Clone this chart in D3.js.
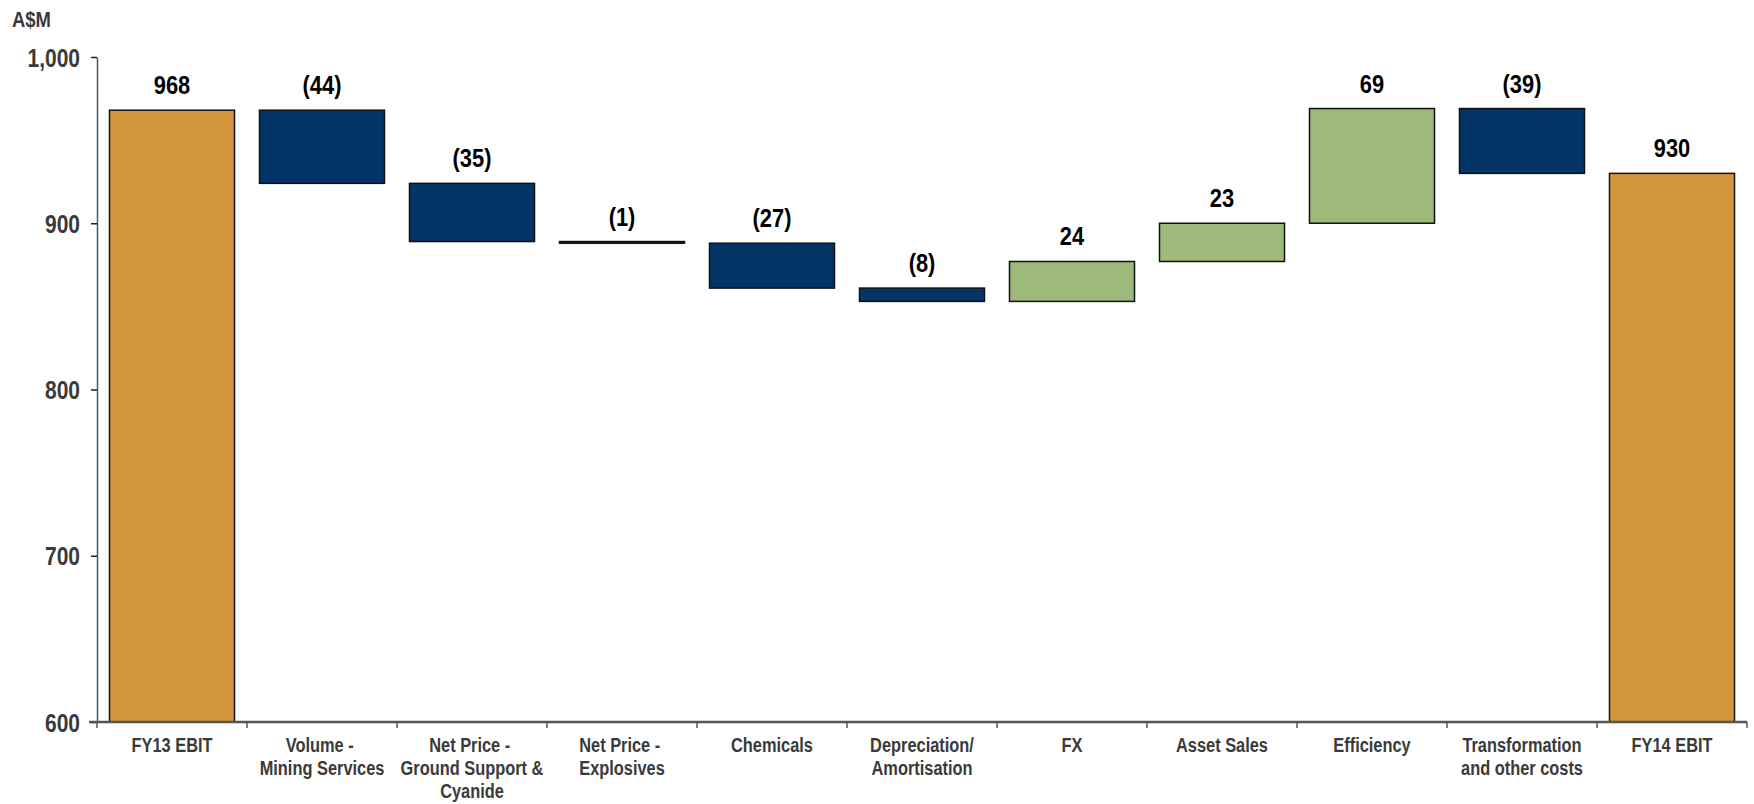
<!DOCTYPE html>
<html>
<head>
<meta charset="utf-8">
<script src="https://cdn.jsdelivr.net/npm/d3@7"></script>
<style>
  body { margin: 0; background: #fff; }
  text { font-family: "Liberation Sans Narrow", "Arial Narrow", "Liberation Sans", Arial, sans-serif; font-weight: bold; }
</style>
</head>
<body>
<div class="waterfall-chart"></div>
<script>
var width = 1754,
    height = 804,
    margin = { top: 57, right: 7, bottom: 82, left: 97 },
    goldColor = '#d3963b',
    navyColor = '#023466',
    greenColor = '#9dba7a',
    axisColor = '#555555',
    labelColor = '#3a3a3a',
    narrow = 0.84;

// data
var categories = ['FY13 EBIT', 'Volume - |Mining Services', 'Net Price - |Ground Support &|Cyanide',
                  'Net Price - |Explosives', 'Chemicals', 'Depreciation/|Amortisation', 'FX',
                  'Asset Sales', 'Efficiency', 'Transformation|and other costs', 'FY14 EBIT'];
var values = [968, -44, -35, -1, -27, -8, 24, 23, 69, -39, 930];
var kinds = ['total', 'step', 'step', 'step', 'step', 'step', 'step', 'step', 'step', 'step', 'total'];
var yTicks = [600, 700, 800, 900, 1000];

// running totals -> bar start/end
var bars = [], running = 0;
values.forEach(function (v, i) {
    var b = { cat: categories[i], value: v, kind: kinds[i] };
    if (kinds[i] === 'total') {
        b.start = 600; b.end = v; running = v;
    } else {
        b.start = running; b.end = running + v; running = b.end;
    }
    bars.push(b);
});

// squeeze text horizontally to mimic a narrow face
function condense(sel) {
    sel.each(function () {
        var len = this.getComputedTextLength();
        d3.select(this).attr('textLength', len * narrow).attr('lengthAdjust', 'spacingAndGlyphs');
    });
}

var svg = d3.select('.waterfall-chart').append('svg')
    .attr('width', width)
    .attr('height', height);

var x = d3.scaleBand()
    .domain(categories)
    .range([margin.left, width - margin.right])
    .padding(0);

var barPad = 0.0833;

var y = d3.scaleLinear()
    .domain([600, 1000])
    .range([height - margin.bottom, margin.top]);

function fillFor(d) {
    if (d.kind === 'total') return goldColor;
    return d.value < 0 ? navyColor : greenColor;
}

// bars
svg.append('g').attr('class', 'bars')
    .selectAll('rect')
    .data(bars)
    .enter().append('rect')
    .attr('x', function (d) { return x(d.cat) + x.bandwidth() * barPad; })
    .attr('width', x.bandwidth() * (1 - 2 * barPad))
    .attr('y', function (d) { return y(Math.max(d.start, d.end)); })
    .attr('height', function (d) { return Math.abs(y(d.start) - y(d.end)); })
    .attr('fill', fillFor)
    .attr('stroke', '#111')
    .attr('stroke-width', 1.5);

// value labels
svg.append('g').attr('class', 'values')
    .selectAll('text')
    .data(bars)
    .enter().append('text')
    .attr('x', function (d) { return x(d.cat) + x.bandwidth() / 2; })
    .attr('y', function (d) { return y(Math.max(d.start, d.end)) - 16; })
    .attr('text-anchor', 'middle')
    .attr('font-size', 26)
    .attr('fill', '#000')
    .text(function (d) { return d.value < 0 ? '(' + Math.abs(d.value) + ')' : d.value; })
    .call(condense);

// y axis
var yAxis = svg.append('g')
    .attr('transform', 'translate(' + margin.left + ',0)')
    .call(d3.axisLeft(y).tickValues(yTicks).tickFormat(d3.format(',')).tickSize(6).tickSizeOuter(0).tickPadding(11));
yAxis.select('.domain').attr('stroke', axisColor).attr('stroke-width', 1.5);
yAxis.selectAll('.tick line').attr('stroke', '#222').attr('stroke-width', 1.5);
yAxis.selectAll('.tick text')
    .attr('font-size', 25)
    .attr('fill', labelColor)
    .attr('dy', '0.36em')
    .style('font-family', '"Liberation Sans Narrow", "Arial Narrow", "Liberation Sans", Arial, sans-serif')
    .call(condense);

// x axis baseline and separators
var xAxis = svg.append('g').attr('class', 'x-axis');
xAxis.append('line')
    .attr('x1', margin.left - 8)
    .attr('x2', width - margin.right)
    .attr('y1', y(600))
    .attr('y2', y(600))
    .attr('stroke', axisColor)
    .attr('stroke-width', 2.5);

var bounds = categories.map(function (c) { return x(c); }).concat([x(categories[categories.length - 1]) + x.bandwidth()]);
xAxis.selectAll('.sep')
    .data(bounds)
    .enter().append('line')
    .attr('class', 'sep')
    .attr('x1', function (d) { return d; })
    .attr('x2', function (d) { return d; })
    .attr('y1', y(600))
    .attr('y2', y(600) + 6)
    .attr('stroke', axisColor)
    .attr('stroke-width', 1.5);

var catLabels = xAxis.selectAll('.cat')
    .data(categories)
    .enter().append('text')
    .attr('class', 'cat')
    .attr('text-anchor', 'middle')
    .attr('font-size', 19.5)
    .attr('fill', labelColor)
    .attr('transform', function (d) { return 'translate(' + (x(d) + x.bandwidth() / 2) + ',' + (y(600) + 30) + ')'; });

catLabels.selectAll('tspan')
    .data(function (d) { return d.split('|'); })
    .enter().append('tspan')
    .attr('x', 0)
    .attr('dy', function (d, i) { return i === 0 ? 0 : 23; })
    .text(function (d) { return d; })
    .call(condense);

// unit label
svg.append('text')
    .attr('x', 12)
    .attr('y', 27)
    .attr('font-size', 22)
    .attr('fill', labelColor)
    .text('A$M')
    .call(condense);
</script>
</body>
</html>
